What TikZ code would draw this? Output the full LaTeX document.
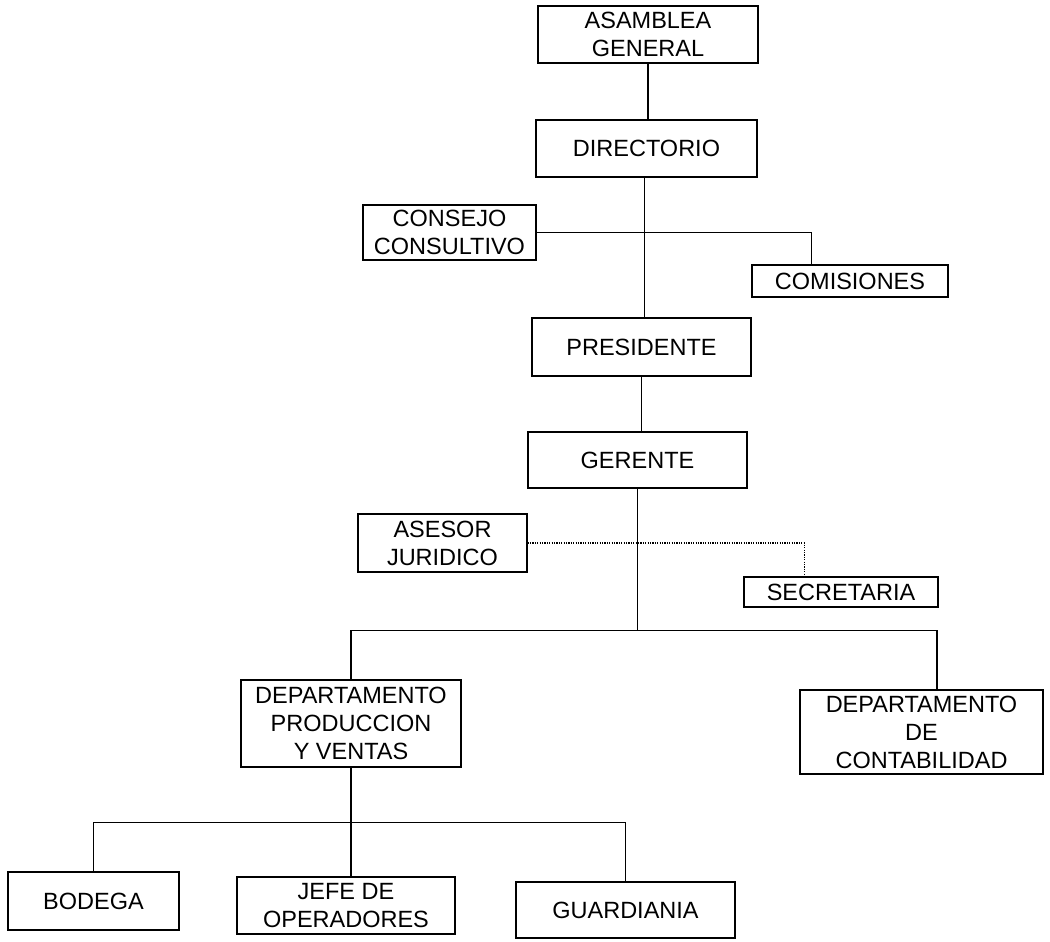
\documentclass[tikz,border=0pt]{standalone}
\usepackage{fontspec}
\setmainfont{Liberation Sans}
\usetikzlibrary{calc}
\tikzset{
  box/.style={draw, line width=1.3pt, rectangle, inner sep=0pt, align=center,
    font=\fontsize{23.5}{28}\selectfont},
  conn/.style={line width=1.3pt},
  dotconn/.style={line width=1.1pt, dash pattern=on 1.2pt off 1.2pt}
}
\begin{document}
\begin{tikzpicture}[x=1pt,y=-1pt]
\useasboundingbox (0,0) rectangle (1050,942);
\node[box, minimum width=220pt, minimum height=57pt] (asam) at (648,34.5) {ASAMBLEA\\GENERAL};
\node[box, minimum width=221pt, minimum height=57pt] (dir) at (646.5,148.5) {DIRECTORIO};
\node[box, minimum width=173pt, minimum height=55pt] (cons) at (449.5,232.5) {CONSEJO\\CONSULTIVO};
\node[box, minimum width=196pt, minimum height=32pt] (com) at (850,281) {COMISIONES};
\node[box, minimum width=219pt, minimum height=58pt] (pres) at (641.5,347) {PRESIDENTE};
\node[box, minimum width=219pt, minimum height=56pt] (ger) at (637.5,460) {GERENTE};
\node[box, minimum width=169pt, minimum height=58pt] (ases) at (442.5,543) {ASESOR\\JURIDICO};
\node[box, minimum width=194pt, minimum height=30pt] (sec) at (841,592) {SECRETARIA};
\node[box, minimum width=220pt, minimum height=87pt] (dprod) at (351,723.5) {DEPARTAMENTO\\PRODUCCION\\Y VENTAS};
\node[box, minimum width=243pt, minimum height=84pt] (dcont) at (921.5,732) {DEPARTAMENTO\\DE\\CONTABILIDAD};
\node[box, minimum width=171pt, minimum height=58pt] (bod) at (93.5,901) {BODEGA};
\node[box, minimum width=218pt, minimum height=57pt] (jefe) at (346,905.5) {JEFE DE\\OPERADORES};
\node[box, minimum width=219pt, minimum height=56pt] (guard) at (625.5,910) {GUARDIANIA};

\coordinate (b1) at ($(ger.south)+(0,142)$);
\coordinate (b2) at ($(dprod.south)+(0,55)$);

\draw[conn] (asam.south) -- (asam.south |- dir.north);
\draw[conn] ([xshift=-2pt]dir.south) -- ([xshift=-2pt]dir.south |- pres.north);
\draw[conn] (cons.east) -| ([xshift=60pt]com.north west);
\draw[conn] (pres.south) -- (pres.south |- ger.north);
\draw[dotconn] (ases.east) -| ([xshift=61pt]sec.north west);
\draw[conn] (ger.south) -- (b1);
\draw[conn] (dprod.north) |- (b1) -| ([xshift=15.5pt]dcont.north);
\draw[conn] (dprod.south) -- (dprod.south |- jefe.north);
\draw[conn] (bod.north) |- (b2) -| (guard.north);
\end{tikzpicture}
\end{document}
